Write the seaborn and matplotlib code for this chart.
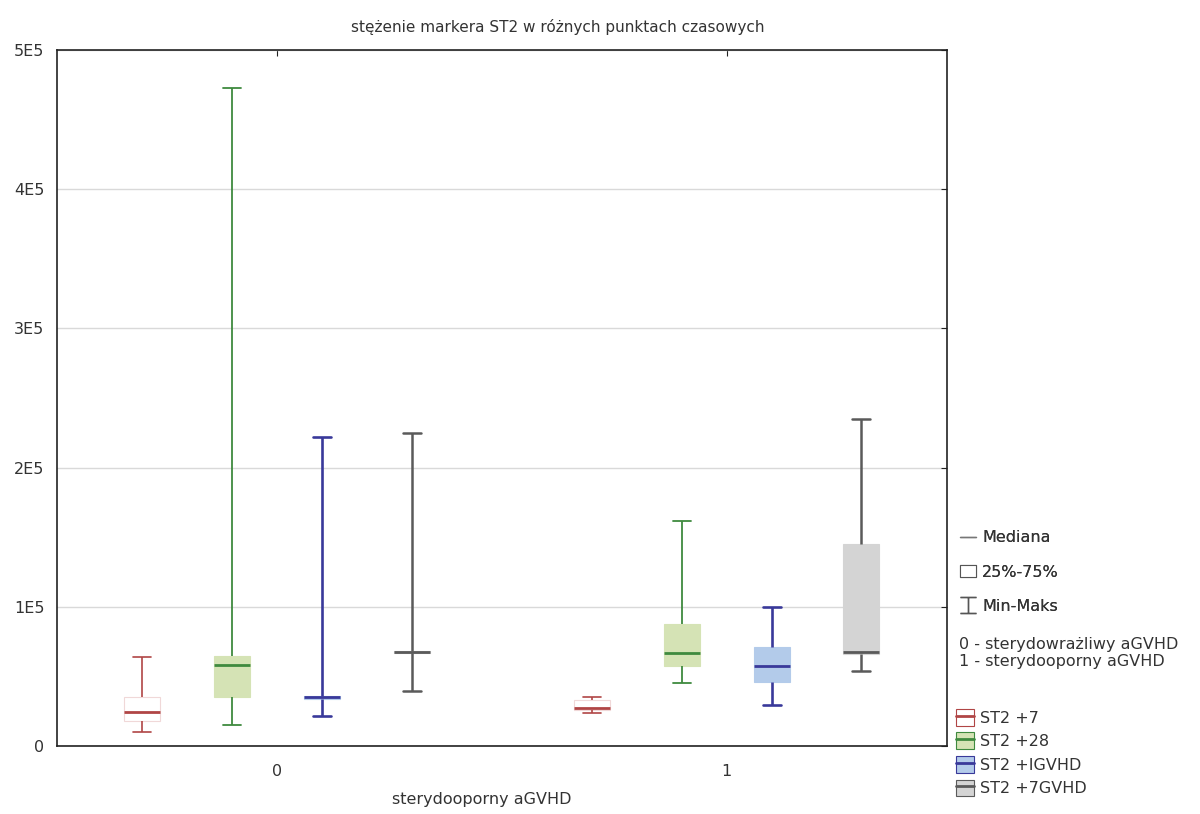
import matplotlib
matplotlib.use("Agg")
import matplotlib.pyplot as plt
import seaborn as sns
import pandas as pd
from matplotlib.lines import Line2D
from matplotlib.patches import Patch, Rectangle
from matplotlib.path import Path
from matplotlib.legend_handler import HandlerTuple
from matplotlib.ticker import FixedLocator, FixedFormatter

# grupy i serie
groups = ["0", "1"]
series = ["ST2 +7", "ST2 +28", "ST2 +IGVHD", "ST2 +7GVHD"]

# min, q1, mediana, q3, max dla grupy 0 (sterydowrażliwy)
mins_0 = [10000, 15000, 21500, 39500]
q1_0 = [18000, 35000, 34000, 67000]
med_0 = [24500, 58000, 35000, 67500]
q3_0 = [35000, 65000, 36000, 68000]
max_0 = [64000, 473000, 222000, 225000]

# to samo dla grupy 1 (sterydooporny)
mins_1 = [24000, 45000, 29500, 54000]
q1_1 = [26000, 57500, 46000, 66000]
med_1 = [27500, 67000, 57500, 67500]
q3_1 = [33000, 88000, 71000, 145000]
max_1 = [35000, 162000, 100000, 235000]

ytick_vals = [0, 100000, 200000, 300000, 400000, 500000]
ytick_labels = ["0", "1E5", "2E5", "3E5", "4E5", "5E5"]

fills = ["#ffffff", "#d5e3b5", "#b3cbea", "#d4d4d4"]
lines = ["#b04545", "#3f8a3f", "#39399a", "#5a5a5a"]
line_w = [1.2, 1.3, 1.9, 1.8]

rows = []
for g, stats in zip(groups, [(mins_0, q1_0, med_0, q3_0, max_0), (mins_1, q1_1, med_1, q3_1, max_1)]):
    for i, s in enumerate(series):
        for arr in stats:
            rows.append({"grupa": g, "seria": s, "wartosc": arr[i]})
df = pd.DataFrame(rows)

sns.set_style("white")
plt.rcParams["font.family"] = ["DejaVu Sans"]
txt_col = "#333333"

fig = plt.figure(figsize=(12, 8.14), dpi=100)
ax = fig.add_axes([0.0475, 0.0835, 0.7415, 0.855])

sns.boxplot(data=df, x="grupa", y="wartosc", hue="seria", order=groups, hue_order=series,
            whis=(0, 100), width=0.8, gap=0.6, palette=fills, fliersize=0,
            legend=False, ax=ax)

# kolory linii dla każdej serii
for cont, fc, lc, lw in zip(ax.containers, fills, lines, line_w):
    for b in cont.boxes:
        b.set_facecolor(fc)
        b.set_edgecolor("#f0d8d8" if fc == "#ffffff" else fc)
        b.set_linewidth(0.8)
    for m in cont.medians:
        m.set_color(lc)
        m.set_linewidth(2)
    for w in cont.whiskers:
        w.set_color(lc)
        w.set_linewidth(lw)
    for c in cont.caps:
        c.set_color(lc)
        c.set_linewidth(lw)

ax.set_xlim(-0.49, 1.49)
ax.set_ylim(0, 500000)
ax.yaxis.set_major_locator(FixedLocator(ytick_vals))
ax.yaxis.set_major_formatter(FixedFormatter(ytick_labels))
ax.grid(axis="y", color="#d9d9d9", linewidth=1)
ax.set_axisbelow(True)
for sp in ax.spines.values():
    sp.set_visible(True)
    sp.set_color("#222222")
    sp.set_linewidth(1.2)
ax.tick_params(direction="in", length=4, top=True, right=True, labelsize=11.5,
               colors="#222222", labelcolor=txt_col)
ax.tick_params(axis="y", pad=9)
ax.tick_params(axis="x", pad=13)
ax.set_xlabel("sterydooporny aGVHD", fontsize=11.5, color=txt_col)
ax.xaxis.set_label_coords(0.4775, -0.066)
ax.set_ylabel("")
fig.text(0.465, 1 - 27 / 814, "stężenie markera ST2 w różnych punktach czasowych",
         fontsize=11, color=txt_col, ha="center", va="center")

# legenda opisowa
ibeam = Path([(-0.5, 0.5), (0.5, 0.5), (0, 0.5), (0, -0.5), (-0.5, -0.5), (0.5, -0.5)],
             [Path.MOVETO, Path.LINETO, Path.MOVETO, Path.LINETO, Path.MOVETO, Path.LINETO])
h1 = [Line2D([], [], color="#777777", lw=1),
      Rectangle((0, 0), 1, 1, facecolor="white", edgecolor="#555555", lw=0.8),
      Line2D([], [], color="#555555", marker=ibeam, markersize=11, lw=0, markeredgewidth=1)]
leg1 = fig.legend(h1, ["Mediana", "25%-75%", "Min-Maks"], loc="upper left",
                  bbox_to_anchor=(0.788, 0.366), frameon=False, fontsize=11.5,
                  handlelength=1.0, handletextpad=0.4, labelspacing=1.2,
                  labelcolor=txt_col)
fig.add_artist(leg1)
fig.text(0.799, 1 - 653 / 814, "0 - sterydowrażliwy aGVHD\n1 - sterydooporny aGVHD",
         fontsize=11.5, color=txt_col, va="center", ha="left", linespacing=1.15)

h2 = [(Patch(facecolor=f, edgecolor=l, lw=0.8), Line2D([], [], color=l, lw=2))
      for f, l in zip(fills, lines)]
fig.legend(h2, series, loc="upper left", bbox_to_anchor=(0.785, 0.147), frameon=False,
           fontsize=11.5, handlelength=1.1, handleheight=1.25, handletextpad=0.4,
           labelspacing=0.42, labelcolor=txt_col,
           handler_map={tuple: HandlerTuple(ndivide=1)})

fig.savefig("out.png", dpi=100)
